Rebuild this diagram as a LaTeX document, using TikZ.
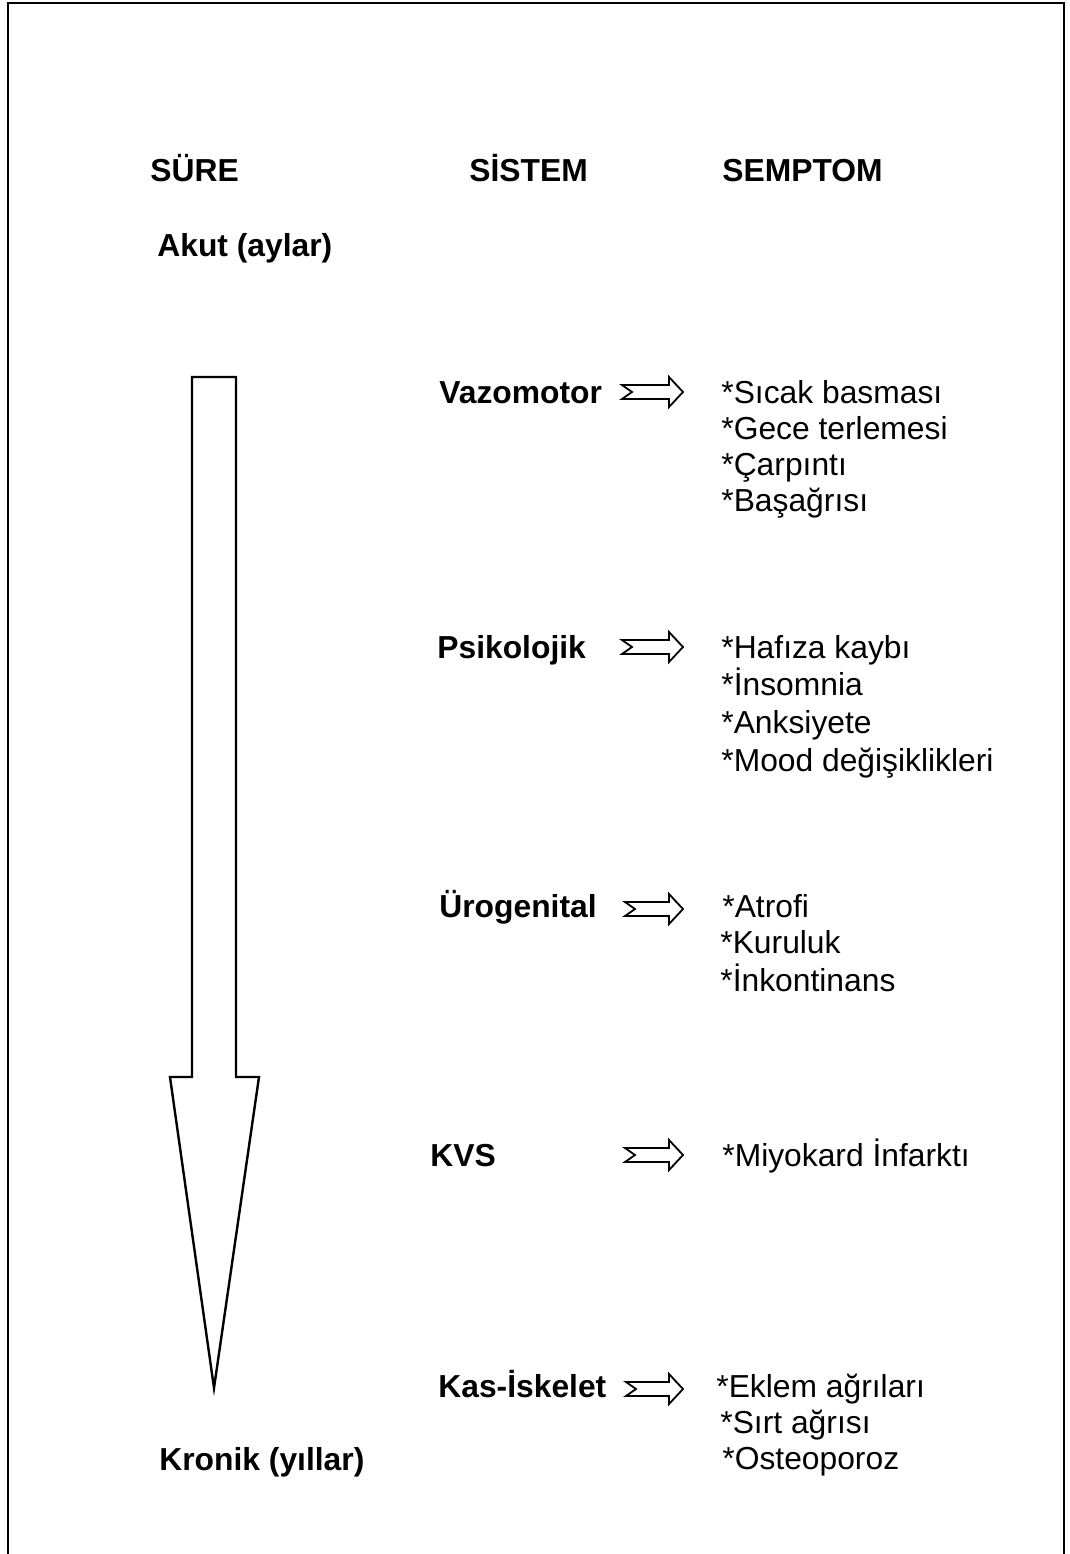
\documentclass[tikz,border=0pt]{standalone}
\usepackage{fontspec}
\setmainfont{Liberation Sans}
\begin{document}
\begin{tikzpicture}[x=0.5pt,y=-0.5pt,
  txt/.style={anchor=base west,inner sep=0pt,font=\fontsize{15.9}{18}\selectfont},
  head/.style={txt,font=\fontsize{15.9}{18}\selectfont\bfseries},
  outline/.style={draw=black,line width=1.2pt,line join=miter,fill=white},
  pics/notcharrow/.style={code={
    % hollow block arrow with a notched tail; the tip is the pic origin
    \draw[outline,line width=0.9pt] (0,0) -- (-14,-15) -- (-14,-7) -- (-#1,-7) -- (-#1+10,0)
      -- (-#1,7) -- (-14,7) -- (-14,15) -- cycle;
  }}]
\useasboundingbox (0,0) rectangle (1070,1554);

% open frame (no bottom edge)
\draw[line width=1.1pt] (8,1560) -- (8,3) -- (1064,3) -- (1064,1560);

% column headings
\node[head] (sure)    at (150,181) {SÜRE};
\node[head] (sistem)  at (469,181) {SİSTEM};
\node[head] (semptom) at (722,181) {SEMPTOM};

% time axis
\node[head] (akut)   at (157,256)  {Akut (aylar)};
\node[head] (kronik) at (159,1470) {Kronik (yıllar)};
\draw[outline] (192,377) -- (236,377) -- (236,1077) -- (259,1077) -- (214,1388)
  -- (170,1077) -- (192,1077) -- cycle;

% systems
\node[head] (vazo)  at (439,403)  {Vazomotor};
\node[head] (psiko) at (437,658)  {Psikolojik};
\node[head] (uro)   at (439,917)  {Ürogenital};
\node[head] (kvs)   at (430,1166) {KVS};
\node[head] (kas)   at (438,1397) {Kas-İskelet};

% arrows from systems to symptoms
\pic at (683,392)  {notcharrow=61};
\pic at (683,647)  {notcharrow=61};
\pic at (683,909)  {notcharrow=58};
\pic at (683,1155) {notcharrow=58};
\pic at (683,1389) {notcharrow=57};

% symptoms
\node[txt] (v1) at (721,403) {*Sıcak basması};
\node[txt] (v2) at (721,439) {*Gece terlemesi};
\node[txt] (v3) at (721,475) {*Çarpıntı};
\node[txt] (v4) at (721,511) {*Başağrısı};

\node[txt] (p1) at (721,658) {*Hafıza kaybı};
\node[txt] (p2) at (721,695) {*İnsomnia};
\node[txt] (p3) at (721,733) {*Anksiyete};
\node[txt] (p4) at (721,771) {*Mood değişiklikleri};

\node[txt] (u1) at (722,917) {*Atrofi};
\node[txt] (u2) at (720,953) {*Kuruluk};
\node[txt] (u3) at (720,991) {*İnkontinans};

\node[txt] (k1) at (722,1166) {*Miyokard İnfarktı};

\node[txt] (s1) at (716,1397) {*Eklem ağrıları};
\node[txt] (s2) at (720,1433) {*Sırt ağrısı};
\node[txt] (s3) at (722,1469) {*Osteoporoz};
\end{tikzpicture}
\end{document}
